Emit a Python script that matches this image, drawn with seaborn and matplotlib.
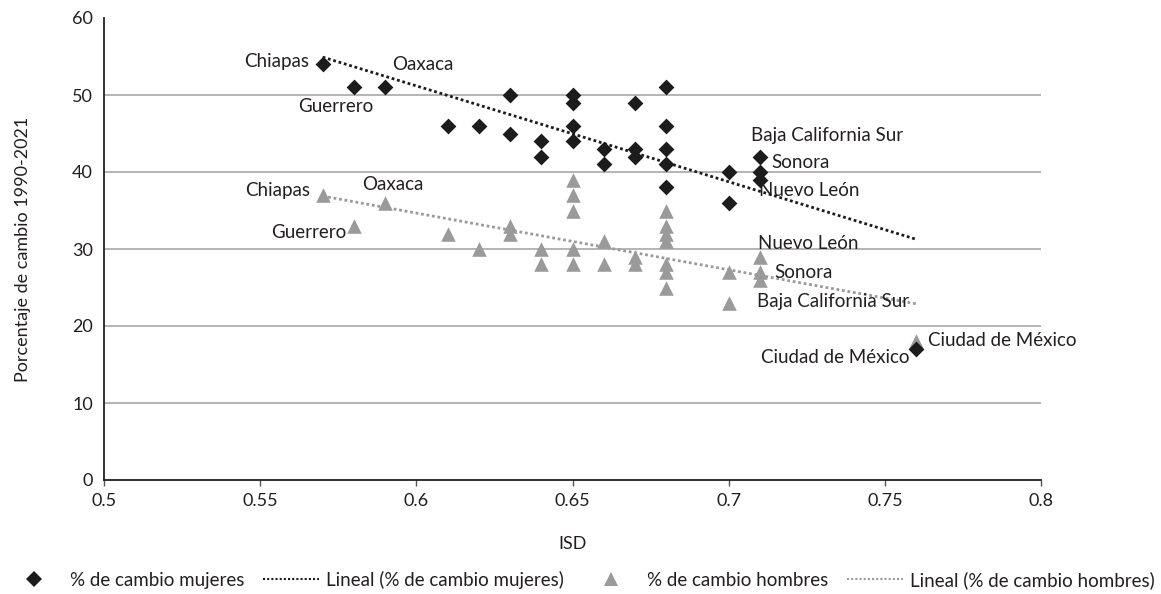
import matplotlib
matplotlib.use('Agg')
from matplotlib import pyplot as plt
from matplotlib.lines import Line2D
import numpy as np
import pandas as pd
import seaborn as sns

# ISD vs % de cambio 1990-2021, one point per estado
isd_mujeres = [0.57, 0.58, 0.59, 0.61, 0.62, 0.63, 0.63, 0.64, 0.64,
               0.65, 0.65, 0.65, 0.65, 0.66, 0.66, 0.67, 0.67, 0.67,
               0.68, 0.68, 0.68, 0.68, 0.68, 0.70, 0.70, 0.71, 0.71, 0.71, 0.76]
cambio_mujeres = [54, 51, 51, 46, 46, 50, 45, 44, 42,
                  50, 49, 46, 44, 43, 41, 49, 43, 42,
                  51, 46, 43, 41, 38, 40, 36, 42, 40, 39, 17]

isd_hombres = [0.57, 0.58, 0.59, 0.61, 0.62, 0.63, 0.63, 0.64, 0.64,
               0.65, 0.65, 0.65, 0.65, 0.65, 0.66, 0.66, 0.67, 0.67,
               0.68, 0.68, 0.68, 0.68, 0.68, 0.68, 0.68, 0.70, 0.70,
               0.71, 0.71, 0.71, 0.76]
cambio_hombres = [37, 33, 36, 32, 30, 33, 32, 30, 28,
                  39, 37, 35, 30, 28, 31, 28, 29, 28,
                  35, 33, 32, 31, 28, 27, 25, 27, 23,
                  29, 27, 26, 18]

# labelled states: (name, isd, value)
etiquetas_mujeres = [('Chiapas', 0.57, 54), ('Oaxaca', 0.59, 51), ('Guerrero', 0.58, 51),
                     ('Baja California Sur', 0.71, 42), ('Sonora', 0.71, 40),
                     ('Nuevo León', 0.71, 39), ('Ciudad de México', 0.76, 17)]
etiquetas_hombres = [('Chiapas', 0.57, 37), ('Oaxaca', 0.59, 36), ('Guerrero', 0.58, 33),
                     ('Nuevo León', 0.71, 29), ('Sonora', 0.71, 27),
                     ('Baja California Sur', 0.70, 23), ('Ciudad de México', 0.76, 18)]

x_ticks = [0.5, 0.55, 0.6, 0.65, 0.7, 0.75, 0.8]
x_tick_labels = ['0.5', '0.55', '0.6', '0.65', '0.7', '0.75', '0.8']
y_ticks = [0, 10, 20, 30, 40, 50, 60]

# text offsets in pixels (dx, dy, ha)
off_mujeres = [(-14, 3, 'right'), (7, 23, 'left'), (-18, -19, 'center'),
               (-9, 21, 'left'), (11, 9, 'left'), (-1, -11, 'left'), (-7, -8, 'right')]
off_hombres = [(-13, 5, 'right'), (8, 18, 'center'), (-7, -7, 'right'),
               (-2, 13, 'left'), (14, 0, 'left'), (28, 1, 'left'), (12, 1, 'left')]

C_MUJ = '#1c1c1c'
C_HOM = '#9a9a9a'
C_TXT = '#231f20'


def plot():
    sns.set_theme(style='white')
    plt.rcParams['font.family'] = ['Lato', 'DejaVu Sans']

    df_m = pd.DataFrame({'ISD': isd_mujeres, 'cambio': cambio_mujeres})
    df_h = pd.DataFrame({'ISD': isd_hombres, 'cambio': cambio_hombres})

    fig = plt.figure(figsize=(11.61, 5.94), dpi=100)
    ax = fig.add_axes([104 / 1161, 1 - 480 / 594, (1041 - 104) / 1161, (480 - 18) / 594])

    dotted = (0, (1, 1))
    sns.regplot(data=df_m, x='ISD', y='cambio', ax=ax, scatter=False, ci=None,
                truncate=True, color=C_MUJ, line_kws=dict(ls=dotted, lw=2))
    sns.regplot(data=df_h, x='ISD', y='cambio', ax=ax, scatter=False, ci=None,
                truncate=True, color=C_HOM, line_kws=dict(ls=dotted, lw=2))

    sns.scatterplot(data=df_h, x='ISD', y='cambio', ax=ax, marker='^', s=110,
                    color=C_HOM, linewidth=0, zorder=3)
    sns.scatterplot(data=df_m, x='ISD', y='cambio', ax=ax, marker='D', s=65,
                    color=C_MUJ, linewidth=0, zorder=4)

    for (name, x, y), (dx, dy, ha) in zip(etiquetas_mujeres + etiquetas_hombres,
                                          off_mujeres + off_hombres):
        ax.annotate(name, (x, y), xytext=(dx, dy), textcoords='offset pixels',
                    ha=ha, va='center', fontsize=13.5, color=C_TXT, zorder=5)

    ax.set_xlim(0.5, 0.8)
    ax.set_ylim(0, 60)
    ax.set_xticks(x_ticks)
    ax.set_xticklabels(x_tick_labels)
    ax.set_yticks(y_ticks)
    ax.tick_params(axis='both', labelsize=13, colors=C_TXT)
    ax.tick_params(axis='x', length=4, width=1, color='#555555', pad=5,
                   direction='out', bottom=True)
    ax.tick_params(axis='y', length=0, pad=8, left=False)
    ax.grid(axis='y', color='#a8a8a8', lw=1.2)
    ax.yaxis.get_gridlines()[-1].set_visible(False)
    ax.yaxis.get_gridlines()[0].set_visible(False)
    ax.set_axisbelow(True)
    for s in ['top', 'right']:
        ax.spines[s].set_visible(False)
    for s in ['left', 'bottom']:
        ax.spines[s].set_color(C_TXT)
        ax.spines[s].set_linewidth(1.3)

    ax.set_xlabel('ISD', fontsize=13, color=C_TXT)
    ax.set_ylabel('Porcentaje de cambio 1990-2021', fontsize=13, color=C_TXT)
    ax.xaxis.set_label_coords(0.5, -0.122)
    ax.yaxis.set_label_coords(-0.078, 0.5)

    handles = [
        Line2D([], [], marker='D', ls='none', color=C_MUJ, markersize=8, mew=0),
        Line2D([], [], ls=dotted, lw=1.5, color=C_MUJ),
        Line2D([], [], marker='^', ls='none', color=C_HOM, markersize=10, mew=0),
        Line2D([], [], ls=dotted, lw=1.5, color=C_HOM),
    ]
    labels = ['% de cambio mujeres', 'Lineal (% de cambio mujeres)',
              '% de cambio hombres', 'Lineal (% de cambio hombres)']
    fig.legend(handles, labels, loc='center', bbox_to_anchor=(0.5, 1 - 580 / 594),
               ncol=4, frameon=False, fontsize=13.5, handlelength=3.0,
               columnspacing=1.0, handletextpad=0.4, labelcolor=C_TXT)

    fig.savefig('out.png', dpi=100)


def main():
    plot()


if __name__ == "__main__":
    main()
